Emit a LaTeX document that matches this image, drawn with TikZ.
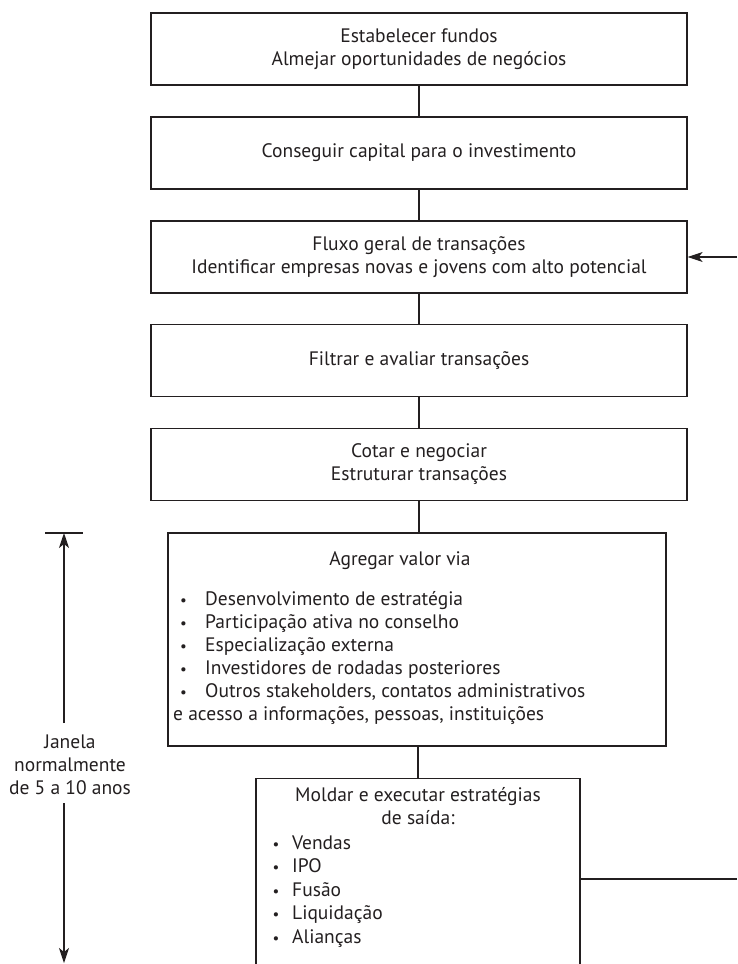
\documentclass[tikz,border=0pt]{standalone}
\usepackage{fontspec}
\setmainfont{PT Sans}
\usetikzlibrary{arrows.meta}
\definecolor{ink}{HTML}{231F20}
\begin{document}
\begin{tikzpicture}[x=1pt,y=-1pt,
  font=\fontsize{19.5}{23}\selectfont,
  box/.style={draw=ink, line width=1.3pt, inner sep=0pt, align=center, text=ink},
  link/.style={draw=ink, line width=1.1pt},
  tip/.style={-{Stealth[length=15pt,width=10pt,inset=4pt]}},
  lbl/.style={text=ink, inner sep=0pt},
  dot/.style={text=ink, inner sep=0pt, font=\fontsize{15}{15}\selectfont}]
\clip (0,0) rectangle (737,964);

% main chain of stages
\node[box, minimum width=536pt, minimum height=72pt] (b1) at (419,49)
  {Estabelecer fundos\\Almejar oportunidades de negócios};
\node[box, minimum width=536pt, minimum height=72pt] (b2) at (419,153)
  {Conseguir capital para o investimento};
\node[box, minimum width=536pt, minimum height=72pt] (b3) at (419,257)
  {Fluxo geral de transações\\Identificar empresas novas e jovens com alto potencial};
\node[box, minimum width=536pt, minimum height=72pt] (b4) at (419,360.5)
  {Filtrar e avaliar transações};
\node[box, minimum width=536pt, minimum height=72pt] (b5) at (419,464.5)
  {Cotar e negociar\\Estruturar transações};

% value-adding stage
\node[box, minimum width=498pt, minimum height=213pt] (b6) at (417,639.5) {};
\node[lbl, anchor=base] (h6) at (400,565) {Agregar valor via};
\foreach \t [count=\i from 0] in {Desenvolvimento de estratégia,
    Participação ativa no conselho, Especialização externa,
    Investidores de rodadas posteriores,
    {Outros stakeholders, contatos administrativos}} {
  \node[dot, anchor=base] (d6\i) at (183.5,605+23*\i) {\textbullet};
  \node[lbl, anchor=base west] (t6\i) at (205,605+23*\i) {\t};
}
\node[lbl, anchor=base west] (t6x) at (173,720)
  {e acesso a informações, pessoas, instituições};

% exit stage (runs off the bottom edge)
\node[box, minimum width=324pt, minimum height=240pt, anchor=north] (b7) at (418,778) {};
\node[lbl, anchor=base] (h7a) at (418,801) {Moldar e executar estratégias};
\node[lbl, anchor=base] (h7b) at (418,824) {de saída:};
\foreach \t [count=\i from 0] in {Vendas, IPO, Fusão, Liquidação, Alianças} {
  \node[dot, anchor=base] (d7\i) at (276,849+23.5*\i) {\textbullet};
  \node[lbl, anchor=base west] (t7\i) at (292,849+23.5*\i) {\t};
}

% connectors between stages
\draw[link] (b1.south) -- (b2.north);
\draw[link] (b2.south) -- (b3.north);
\draw[link] (b3.south) -- (b4.north);
\draw[link] (b4.south) -- (b5.north);
\draw[link] (b5.south) -- (b5.south |- b6.north);
\draw[link] (b6.south -| b7.north) -- (b7.north);

% feedback from the exit back into the deal flow
\coordinate (exitR) at (737,879);
\coordinate (entryR) at (737,257);
\draw[link] (b7.east |- exitR) -- (exitR);
\draw[link, tip] (entryR) -- (b3.east);

% time window dimension
\coordinate (barL) at (45,533);
\coordinate (barR) at (83,533);
\coordinate (dimTop) at (64,533);
\coordinate (dimBot) at (64,963);
\coordinate (gapT) at (64,723);
\coordinate (gapB) at (64,803);
\draw[link] (barL) -- (barR);
\node[lbl, align=center] (win) at (70,765) {Janela\\normalmente\\de 5 a 10 anos};
\draw[link, tip] (gapT) -- (dimTop);
\draw[link, tip] (gapB) -- (dimBot);
\end{tikzpicture}
\end{document}
